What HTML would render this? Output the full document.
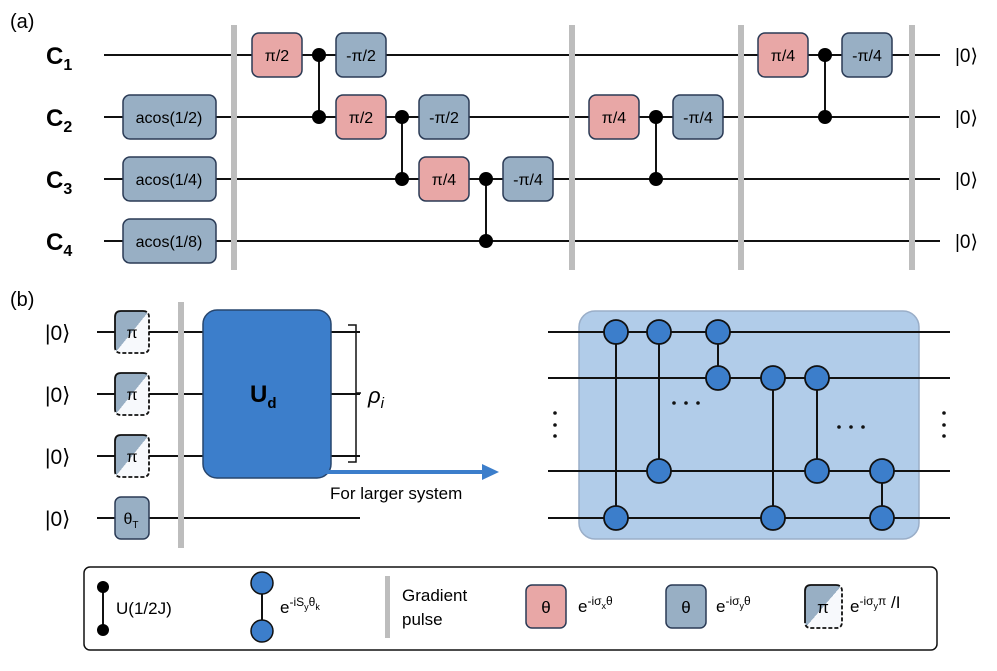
<!DOCTYPE html>
<html><head><meta charset="utf-8"><style>
body{margin:0;background:#fff}
svg text{font-family:"Liberation Sans","DejaVu Sans",sans-serif}
</style></head><body>
<svg width="997" height="666" viewBox="0 0 997 666" xmlns="http://www.w3.org/2000/svg">
<defs>
<linearGradient id="pg" x1="0" y1="0" x2="1" y2="1">
<stop offset="0.5" stop-color="#98afc4"/><stop offset="0.5" stop-color="#f7f9fc"/>
</linearGradient>
</defs>
<g font-size="20"><text x="10" y="28">(a)</text><text x="10" y="306">(b)</text></g>
<g stroke="#111" stroke-width="2">
<line x1="104" y1="55" x2="940" y2="55"/><line x1="104" y1="117" x2="940" y2="117"/>
<line x1="104" y1="179" x2="940" y2="179"/><line x1="104" y1="241" x2="940" y2="241"/>
</g>
<g font-weight="bold" font-size="24">
<text x="46" y="64">C<tspan font-size="16" dy="6">1</tspan></text>
<text x="46" y="126">C<tspan font-size="16" dy="6">2</tspan></text>
<text x="46" y="188">C<tspan font-size="16" dy="6">3</tspan></text>
<text x="46" y="250">C<tspan font-size="16" dy="6">4</tspan></text>
</g>
<g font-size="19"><text x="955" y="62">|0⟩</text><text x="955" y="124">|0⟩</text><text x="955" y="186">|0⟩</text><text x="955" y="248">|0⟩</text></g>
<g fill="#bdbdbd"><rect x="231" y="25" width="6" height="245"/><rect x="569" y="25" width="6" height="245"/><rect x="738" y="25" width="6" height="245"/><rect x="909" y="25" width="6" height="245"/></g>
<g stroke="#2a3a55" stroke-width="1.5" fill="#98afc4">
<rect x="123" y="95" width="93" height="44" rx="7"/><rect x="123" y="157" width="93" height="44" rx="7"/><rect x="123" y="219" width="93" height="44" rx="7"/>
<rect x="336" y="33" width="50" height="44" rx="7"/><rect x="419" y="95" width="50" height="44" rx="7"/><rect x="503" y="157" width="50" height="44" rx="7"/>
<rect x="673" y="95" width="50" height="44" rx="7"/><rect x="842" y="33" width="50" height="44" rx="7"/>
</g>
<g stroke="#2a3a55" stroke-width="1.5" fill="#e8a7a6">
<rect x="252" y="33" width="50" height="44" rx="7"/><rect x="336" y="95" width="50" height="44" rx="7"/><rect x="419" y="157" width="50" height="44" rx="7"/>
<rect x="589" y="95" width="50" height="44" rx="7"/><rect x="758" y="33" width="50" height="44" rx="7"/>
</g>
<g font-size="16" text-anchor="middle">
<text x="169" y="123">acos(1/2)</text><text x="169" y="185">acos(1/4)</text><text x="169" y="247">acos(1/8)</text>
<text x="277" y="61">π/2</text><text x="361" y="61">-π/2</text><text x="361" y="123">π/2</text><text x="444" y="123">-π/2</text>
<text x="444" y="185">π/4</text><text x="528" y="185">-π/4</text><text x="614" y="123">π/4</text><text x="698" y="123">-π/4</text>
<text x="783" y="61">π/4</text><text x="867" y="61">-π/4</text>
</g>
<g stroke="#111" stroke-width="2"><line x1="319" y1="55" x2="319" y2="117"/><line x1="402" y1="117" x2="402" y2="179"/><line x1="486" y1="179" x2="486" y2="241"/><line x1="656" y1="117" x2="656" y2="179"/><line x1="825" y1="55" x2="825" y2="117"/></g>
<g fill="#000"><circle cx="319" cy="55" r="7"/><circle cx="319" cy="117" r="7"/><circle cx="402" cy="117" r="7"/><circle cx="402" cy="179" r="7"/><circle cx="486" cy="179" r="7"/><circle cx="486" cy="241" r="7"/><circle cx="656" cy="117" r="7"/><circle cx="656" cy="179" r="7"/><circle cx="825" cy="55" r="7"/><circle cx="825" cy="117" r="7"/></g>
<g font-size="21"><text x="45" y="340">|0⟩</text><text x="45" y="402">|0⟩</text><text x="45" y="464">|0⟩</text><text x="45" y="526">|0⟩</text></g>
<g stroke="#111" stroke-width="2"><line x1="97" y1="332" x2="360" y2="332"/><line x1="97" y1="394" x2="360" y2="394"/><line x1="97" y1="456" x2="360" y2="456"/><line x1="97" y1="518" x2="360" y2="518"/></g>
<g fill="url(#pg)"><rect x="115" y="311" width="34" height="42" rx="6"/><rect x="115" y="373" width="34" height="42" rx="6"/><rect x="115" y="435" width="34" height="42" rx="6"/></g>
<g fill="none" stroke="#111" stroke-width="1.8">
<path d="M115 347 V317 Q115 311 121 311 H143"/><path d="M143 311 Q149 311 149 317 V347 Q149 353 143 353 H121 Q115 353 115 347" stroke-dasharray="4,2"/>
<path d="M115 409 V379 Q115 373 121 373 H143"/><path d="M143 373 Q149 373 149 379 V409 Q149 415 143 415 H121 Q115 415 115 409" stroke-dasharray="4,2"/>
<path d="M115 471 V441 Q115 435 121 435 H143"/><path d="M143 435 Q149 435 149 441 V471 Q149 477 143 477 H121 Q115 477 115 471" stroke-dasharray="4,2"/>
</g>
<rect x="115" y="497" width="34" height="42" rx="6" fill="#98afc4" stroke="#2a3a55" stroke-width="1.5"/>
<g font-size="16" text-anchor="middle"><text x="132" y="338">π</text><text x="132" y="400">π</text><text x="132" y="462">π</text><text x="131" y="524">θ<tspan font-size="10" dy="4">T</tspan></text></g>
<rect x="178" y="302" width="6" height="246" fill="#bdbdbd"/>
<rect x="203" y="310" width="128" height="168" rx="14" fill="#3c7ecb" stroke="#27466e" stroke-width="1.5"/>
<text x="250" y="402" font-size="24" font-weight="bold">U<tspan font-size="15" dy="6">d</tspan></text>
<path d="M348 325 H356 V462 H348 M356 393 H361" fill="none" stroke="#111" stroke-width="1.5"/>
<text x="368" y="403" font-size="22" font-style="italic" font-family="Liberation Serif,serif">ρ<tspan font-size="15" dy="5">i</tspan></text>
<line x1="325" y1="472" x2="484" y2="472" stroke="#3c7ecb" stroke-width="4"/>
<polygon points="482,464 499,472 482,480" fill="#3c7ecb"/>
<text x="330" y="499" font-size="17">For larger system</text>
<rect x="579" y="311" width="340" height="228" rx="16" fill="#b1cce9" stroke="#9aaec8" stroke-width="1.5"/>
<g stroke="#111" stroke-width="2"><line x1="548" y1="332" x2="950" y2="332"/><line x1="548" y1="378" x2="950" y2="378"/><line x1="548" y1="471" x2="950" y2="471"/><line x1="548" y1="518" x2="950" y2="518"/>
<line x1="616" y1="332" x2="616" y2="518"/><line x1="659" y1="332" x2="659" y2="471"/><line x1="718" y1="332" x2="718" y2="378"/><line x1="773" y1="378" x2="773" y2="518"/><line x1="817" y1="378" x2="817" y2="471"/><line x1="882" y1="471" x2="882" y2="518"/></g>
<g fill="#3c7ecb" stroke="#111" stroke-width="1.8">
<circle cx="616" cy="332" r="12"/><circle cx="616" cy="518" r="12"/><circle cx="659" cy="332" r="12"/><circle cx="659" cy="471" r="12"/>
<circle cx="718" cy="332" r="12"/><circle cx="718" cy="378" r="12"/><circle cx="773" cy="378" r="12"/><circle cx="773" cy="518" r="12"/>
<circle cx="817" cy="378" r="12"/><circle cx="817" cy="471" r="12"/><circle cx="882" cy="471" r="12"/><circle cx="882" cy="518" r="12"/>
</g>
<g fill="#111"><circle cx="674" cy="403" r="1.8"/><circle cx="686" cy="403" r="1.8"/><circle cx="698" cy="403" r="1.8"/>
<circle cx="839" cy="427" r="1.8"/><circle cx="851" cy="427" r="1.8"/><circle cx="863" cy="427" r="1.8"/>
<circle cx="555" cy="413" r="1.8"/><circle cx="555" cy="425" r="1.8"/><circle cx="555" cy="436" r="1.8"/>
<circle cx="944" cy="413" r="1.8"/><circle cx="944" cy="425" r="1.8"/><circle cx="944" cy="436" r="1.8"/></g>
<rect x="84" y="567" width="853" height="83" rx="6" fill="#fff" stroke="#111" stroke-width="1.5"/>
<line x1="103" y1="587" x2="103" y2="630" stroke="#111" stroke-width="2"/>
<circle cx="103" cy="587" r="6" fill="#000"/><circle cx="103" cy="630" r="6" fill="#000"/>
<text x="116" y="614" font-size="17">U(1/2J)</text>
<line x1="262" y1="583" x2="262" y2="631" stroke="#111" stroke-width="2"/>
<circle cx="262" cy="583" r="11" fill="#3c7ecb" stroke="#111" stroke-width="1.5"/><circle cx="262" cy="631" r="11" fill="#3c7ecb" stroke="#111" stroke-width="1.5"/>
<text x="280" y="613" font-size="17">e<tspan font-size="12" dy="-7">-iS</tspan><tspan font-size="9" dy="4">y</tspan><tspan font-size="12" dy="-4">θ</tspan><tspan font-size="9" dy="4">k</tspan></text>
<rect x="385" y="576" width="5" height="62" fill="#bdbdbd"/>
<text x="402" y="601" font-size="17">Gradient</text><text x="402" y="625" font-size="17">pulse</text>
<rect x="526" y="585" width="40" height="43" rx="6" fill="#e8a7a6" stroke="#2a3a55" stroke-width="1.5"/>
<text x="546" y="613" font-size="17" text-anchor="middle">θ</text>
<text x="578" y="612" font-size="17">e<tspan font-size="12" dy="-7">-iσ</tspan><tspan font-size="9" dy="4">x</tspan><tspan font-size="12" dy="-4">θ</tspan></text>
<rect x="666" y="585" width="40" height="43" rx="6" fill="#98afc4" stroke="#2a3a55" stroke-width="1.5"/>
<text x="686" y="613" font-size="17" text-anchor="middle">θ</text>
<text x="716" y="612" font-size="17">e<tspan font-size="12" dy="-7">-iσ</tspan><tspan font-size="9" dy="4">y</tspan><tspan font-size="12" dy="-4">θ</tspan></text>
<rect x="805" y="585" width="37" height="43" rx="6" fill="url(#pg)"/>
<g fill="none" stroke="#111" stroke-width="1.8">
<path d="M805 622 V591 Q805 585 811 585 H836"/><path d="M836 585 Q842 585 842 591 V622 Q842 628 836 628 H811 Q805 628 805 622" stroke-dasharray="4,2"/>
</g>
<text x="823" y="613" font-size="17" text-anchor="middle">π</text>
<text x="850" y="612" font-size="17">e<tspan font-size="12" dy="-7">-iσ</tspan><tspan font-size="9" dy="4">y</tspan><tspan font-size="12" dy="-4">π</tspan><tspan dy="3"> /I</tspan></text>
</svg>
</body></html>
